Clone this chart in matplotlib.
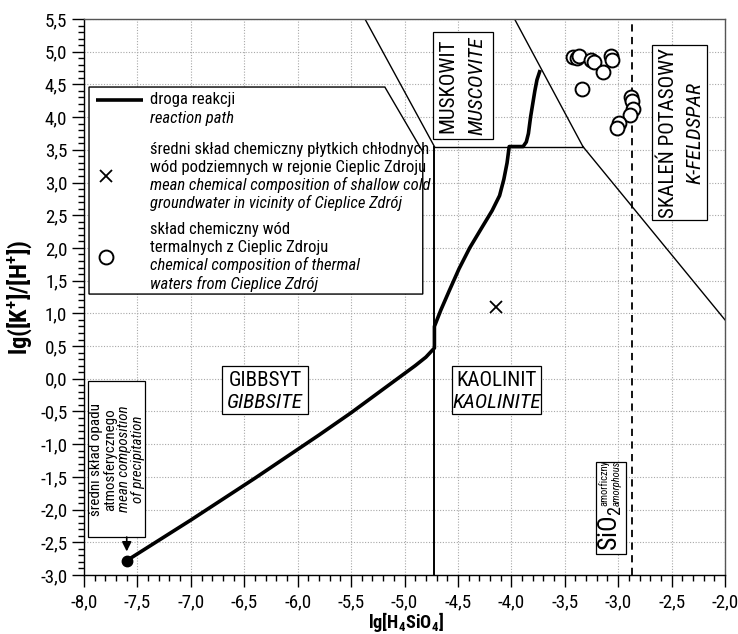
import matplotlib
matplotlib.use('Agg')
import matplotlib.pyplot as plt
from matplotlib import font_manager
from matplotlib.patches import Polygon, Rectangle
from matplotlib.ticker import MultipleLocator, FuncFormatter

# ---------- font choice: prefer a condensed sans, else Liberation Sans ----------
ttf = font_manager.fontManager.ttflist
names = {f.name for f in ttf}
FAM, STRETCH = None, 'normal'
for fam in ['Liberation Sans Narrow', 'Roboto Condensed', 'Open Sans Condensed',
            'Noto Sans Condensed', 'DejaVu Sans Condensed', 'Arial Narrow']:
    if fam in names:
        FAM = fam
        break
if FAM is None:
    for fam in ['Noto Sans', 'DejaVu Sans', 'Open Sans', 'Roboto']:
        ok = [f for f in ttf if f.name == fam and str(f.stretch) in ('condensed', 'semi-condensed')
              and f.style == 'normal']
        if ok:
            FAM, STRETCH = fam, str(ok[0].stretch)
            break
if FAM is None:
    FAM = 'Liberation Sans' if 'Liberation Sans' in names else 'DejaVu Sans'

plt.rcParams['font.family'] = [FAM, 'DejaVu Sans']
plt.rcParams['font.stretch'] = STRETCH
plt.rcParams['axes.unicode_minus'] = False
plt.rcParams['mathtext.fontset'] = 'custom'
plt.rcParams['mathtext.rm'] = FAM
plt.rcParams['mathtext.it'] = FAM + ':italic'
plt.rcParams['mathtext.bf'] = FAM + ':bold'

# ---------------- data ----------------
x_limits = [-8.0, -2.0]
y_limits = [-3.0, 5.5]

# stability-field boundaries: lg[H4SiO4] vs lg([K+]/[H+])
gibbsite_kaolinite_x = [-4.72, -4.72]
gibbsite_kaolinite_y = [-3.0, 3.55]
gibbsite_muscovite_x = [-4.72, -5.37]
gibbsite_muscovite_y = [3.55, 5.5]
kaolinite_muscovite_x = [-4.72, -3.33]
kaolinite_muscovite_y = [3.55, 3.55]
muscovite_kfeldspar_x = [-3.33, -3.97]
muscovite_kfeldspar_y = [3.55, 5.5]
kaolinite_kfeldspar_x = [-3.33, -2.0]
kaolinite_kfeldspar_y = [3.55, 0.90]
sio2_amorphous_x = -2.875

reaction_path_x = [-7.60, -7.30, -7.00, -6.70, -6.40, -6.10, -5.80, -5.50, -5.25,
                   -5.05, -4.90, -4.80, -4.72, -4.72, -4.66, -4.58, -4.49, -4.39,
                   -4.28, -4.18, -4.11, -4.07, -4.04, -4.02, -3.89, -3.86, -3.84,
                   -3.82, -3.80, -3.78, -3.76, -3.73]
reaction_path_y = [-2.78, -2.47, -2.16, -1.84, -1.52, -1.19, -0.86, -0.52, -0.22,
                   0.02, 0.20, 0.33, 0.47, 0.80, 1.05, 1.35, 1.68, 2.00,
                   2.30, 2.57, 2.80, 3.05, 3.30, 3.55, 3.55, 3.62, 3.75,
                   4.00, 4.20, 4.40, 4.57, 4.72]

groundwater_x = [-4.14]
groundwater_y = [1.10]

thermal_x = [-3.42, -3.39, -3.37, -3.25, -3.23, -3.14, -3.07, -3.06, -3.34,
             -2.88, -2.87, -2.86, -2.89, -2.99, -3.01]
thermal_y = [4.92, 4.90, 4.93, 4.88, 4.85, 4.69, 4.93, 4.88, 4.43,
             4.31, 4.24, 4.13, 4.03, 3.91, 3.84]

x_label = r'lg[H$_{\mathbf{4}}$SiO$_{\mathbf{4}}$]'
y_label = r'lg([K$^{\mathbf{+}}$]/[H$^{\mathbf{+}}$])'

# ---------------- figure ----------------
fig = plt.figure(figsize=(7.38, 6.34), dpi=100)
ax = fig.add_axes([84/738, 1-575/634, 641/738, 556/634])
ax.set_xlim(*x_limits)
ax.set_ylim(*y_limits)

ax.xaxis.set_major_locator(MultipleLocator(0.5))
ax.xaxis.set_minor_locator(MultipleLocator(0.1))
ax.yaxis.set_major_locator(MultipleLocator(0.5))
ax.yaxis.set_minor_locator(MultipleLocator(0.1))
fmt = FuncFormatter(lambda v, p: f"{v:.1f}".replace('.', ','))
ax.xaxis.set_major_formatter(fmt)
ax.yaxis.set_major_formatter(fmt)
ax.tick_params(which='major', length=8.5, width=1.0, direction='out', labelsize=13,
               top=False, right=False)
ax.tick_params(which='minor', length=4.3, width=1.0, direction='out', top=False, right=False)
ax.tick_params(axis='x', which='major', pad=4.5)
ax.tick_params(axis='y', which='major', pad=3.5)
ax.grid(True, which='major', linestyle=(0, (1, 1.5)), color='#a8a8a8', linewidth=0.8, zorder=0)
ax.set_axisbelow(True)
for s in ['top', 'right']:
    ax.spines[s].set_color('#555555')
for s in ax.spines.values():
    s.set_linewidth(1.0)

# boundaries
bkw = dict(color='black', linewidth=1.0, zorder=2)
ax.plot(gibbsite_kaolinite_x, gibbsite_kaolinite_y, color='black', linewidth=1.4, zorder=2)
ax.plot(gibbsite_muscovite_x, gibbsite_muscovite_y, **bkw)
ax.plot(kaolinite_muscovite_x, kaolinite_muscovite_y, **bkw)
ax.plot(muscovite_kfeldspar_x, muscovite_kfeldspar_y, **bkw)
ax.plot(kaolinite_kfeldspar_x, kaolinite_kfeldspar_y, **bkw)
ax.axvline(sio2_amorphous_x, color='black', linewidth=1.3, linestyle=(0, (4, 3)), zorder=2)

# reaction path
ax.plot(reaction_path_x, reaction_path_y, color='black', linewidth=2.6,
        solid_joinstyle='round', solid_capstyle='butt', zorder=3)
ax.plot(reaction_path_x[0], reaction_path_y[0], 'o', color='black', markersize=7.5, zorder=3)

# groundwater and thermal waters
ax.plot(groundwater_x, groundwater_y, 'x', color='black', markersize=9, markeredgewidth=1.3, zorder=3)
ax.plot(thermal_x, thermal_y, 'o', markerfacecolor='white', markeredgecolor='black',
        markersize=10, markeredgewidth=1.4, linestyle='none', zorder=3)

# ---------------- legend box ----------------
leg = Polygon([(-7.953, 4.46), (-5.184, 4.46), (-4.829, 3.47), (-4.829, 1.295), (-7.953, 1.295)],
              closed=True, facecolor='white', edgecolor='black', linewidth=1.0, zorder=4)
ax.add_patch(leg)
ax.plot([-7.89, -7.45], [4.262, 4.262], color='black', linewidth=2.6, zorder=5, solid_capstyle='butt')
ax.plot([-7.794], [3.10], 'x', color='black', markersize=9, markeredgewidth=1.3, zorder=5)
ax.plot([-7.794], [1.861], 'o', markerfacecolor='white', markeredgecolor='black',
        markersize=10, markeredgewidth=1.4, zorder=5)
lx = -7.382
leg_lines = [
    ('droga reakcji', 'normal', 4.262),
    ('reaction path', 'italic', 3.986),
    ('średni skład chemiczny płytkich chłodnych', 'normal', 3.512),
    ('wód podziemnych w rejonie Cieplic Zdroju', 'normal', 3.237),
    ('mean chemical composition of shallow cold', 'italic', 2.962),
    ('groundwater in vicinity of Cieplice Zdrój', 'italic', 2.687),
    ('skład chemiczny wód', 'normal', 2.289),
    ('termalnych z Cieplic Zdroju', 'normal', 2.014),
    ('chemical composition of thermal', 'italic', 1.739),
    ('waters from Cieplice Zdrój', 'italic', 1.449),
]
leg_texts = [ax.text(lx, yy, t, fontsize=12.5, style=st, ha='left', va='center', zorder=6)
             for t, st, yy in leg_lines]


def box(x0, y0, x1, y1):
    ax.add_patch(Rectangle((x0, y0), x1-x0, y1-y0, facecolor='white', edgecolor='black',
                           linewidth=0.9, zorder=4))


region_texts = []
# MUSKOWIT
box(-4.730, 3.661, -4.174, 5.306)
region_texts.append(ax.text(-4.593, 4.48, 'MUSKOWIT', rotation=90, fontsize=14.5, ha='center', va='center', zorder=6))
region_texts.append(ax.text(-4.324, 4.48, 'MUSCOVITE', rotation=90, fontsize=14.5, style='italic', ha='center', va='center', zorder=6))

# SKALEN POTASOWY
box(-2.686, 2.427, -2.172, 5.102)
region_texts.append(ax.text(-2.533, 3.76, 'SKALEŃ POTASOWY', rotation=90, fontsize=14.5, ha='center', va='center', zorder=6))
region_texts.append(ax.text(-2.281, 3.76, 'K-FELDSPAR', rotation=90, fontsize=14.5, style='italic', ha='center', va='center', zorder=6))

# GIBBSYT
box(-6.705, -0.539, -5.903, 0.200)
gib = ax.text(-6.304, -0.02, 'GIBBSYT', fontsize=14.5, ha='center', va='center', zorder=6)
region_texts.append(gib)
region_texts.append(ax.text(-6.304, -0.37, 'GIBBSITE', fontsize=14.5, style='italic', ha='center', va='center', zorder=6))

# KAOLINIT
box(-4.56, -0.539, -3.72, 0.200)
region_texts.append(ax.text(-4.14, -0.02, 'KAOLINIT', fontsize=14.5, ha='center', va='center', zorder=6))
region_texts.append(ax.text(-4.14, -0.37, 'KAOLINITE', fontsize=14.5, style='italic', ha='center', va='center', zorder=6))

# SiO2 amorphous
box(-3.207, -2.680, -2.927, -1.273)
sio2 = ax.text(-3.07, -2.63, 'SiO$_2$', rotation=90, fontsize=15, ha='center', va='bottom', zorder=6)
amo = [ax.text(-3.135, -1.95, 'amorficzny', rotation=90, fontsize=9.5, ha='center', va='bottom', zorder=6),
       ax.text(-3.010, -1.95, 'amorphous', rotation=90, fontsize=9.5, style='italic', ha='center', va='bottom', zorder=6)]

# precipitation annotation
box(-7.963, -2.420, -7.430, -0.035)
prec_lines = [('średni skład opadu', 'normal', -7.885),
              ('atmosferycznego', 'normal', -7.755),
              ('mean composition', 'italic', -7.625),
              ('of precipitation', 'italic', -7.495)]
prec_texts = [ax.text(xx, -1.23, t, rotation=90, fontsize=11.5, style=st, ha='center', va='center', zorder=6)
              for t, st, xx in prec_lines]
ax.annotate('', xy=(reaction_path_x[0], reaction_path_y[0] + 0.14),
            xytext=(reaction_path_x[0], -2.42),
            arrowprops=dict(arrowstyle='-|>', color='black', lw=1.2, mutation_scale=14,
                            shrinkA=0, shrinkB=0), zorder=6)

# axis labels
xl = fig.text(406/738, 1-628/634, x_label, fontsize=14, fontweight='bold', ha='center', va='baseline')
yl = fig.text(20/738, 1-297/634, y_label, fontsize=14, fontweight='bold', rotation=90, ha='center', va='center')

# ---------- scale font sizes so that text lengths match the reference ----------
fig.canvas.draw()
r = fig.canvas.get_renderer()


def fit(texts, ref, target, vertical=False):
    bb = ref.get_window_extent(renderer=r)
    cur = bb.height if vertical else bb.width
    if cur > 0:
        k = target / cur
        for t in texts:
            t.set_fontsize(t.get_fontsize() * k)


fit(leg_texts, leg_texts[8], 211)
fit(region_texts, gib, 73)
fit([sio2], sio2, 46, vertical=True)
fit(amo, amo[0], 46, vertical=True)
fit(prec_texts, prec_texts[0], 112, vertical=True)
fit([xl], xl, 76)
fit([yl], yl, 116, vertical=True)
lab = [t for t in ax.get_xticklabels() if t.get_text() == '-8,0']
if lab:
    w = lab[0].get_window_extent(renderer=r).width
    if w > 0:
        ax.tick_params(labelsize=13 * 27 / w)

fig.savefig('out.png', dpi=100)
